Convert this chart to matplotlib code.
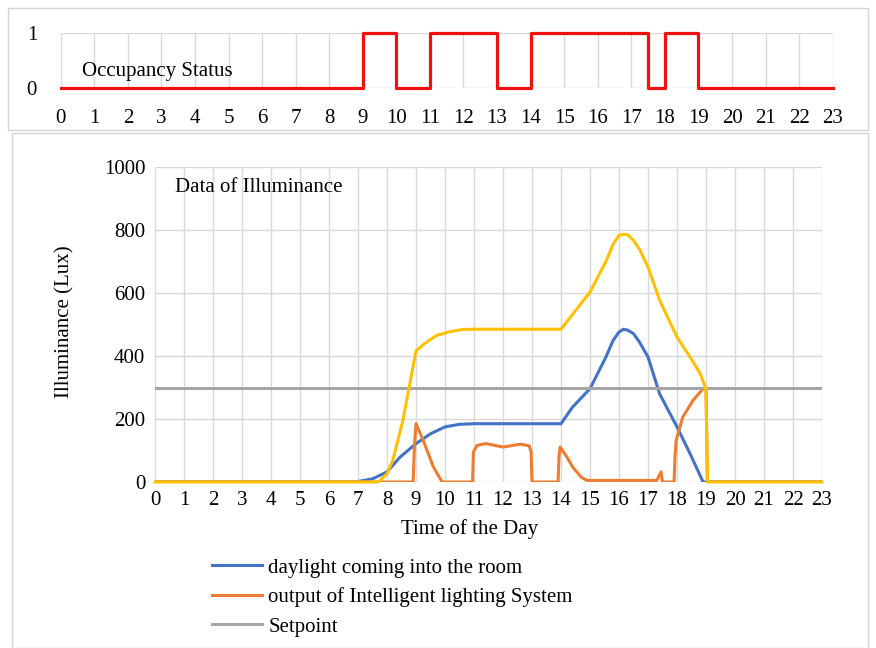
import matplotlib
matplotlib.use("Agg")
import matplotlib.pyplot as plt
from matplotlib.patches import Rectangle

plt.rcParams['font.family'] = ['Liberation Serif', 'DejaVu Serif']

## ocupacion (panel de arriba)
occ_hours = [0, 9, 10, 11, 13, 14, 17.5, 18, 19, 23]
occ_status = [0, 1, 0, 1, 0, 1, 0, 1, 0, 0]

## luz natural que entra en la sala
t_day = [0, 6.9, 7.5, 8, 8.45, 9, 9.5, 10, 10.5, 11, 14, 14.4, 15, 15.55, 15.8, 16,
         16.15, 16.3, 16.5, 16.7, 17, 17.4, 18, 18.45, 18.9, 23]
daylight = [0, 0, 10, 32, 79, 122, 153, 175, 183, 185, 185, 238, 296, 397, 450, 476,
            485, 482, 471, 445, 397, 280, 175, 90, 0, 0]

## salida del sistema inteligente
t_out = [0, 8.9, 8.95, 9, 9.25, 9.6, 9.9, 10.95, 10.98, 11.1, 11.4, 12, 12.6, 12.9,
         12.97, 13.0, 13.9, 13.93, 13.97, 14.2, 14.4, 14.7, 14.9, 17.3, 17.45, 17.5,
         17.9, 17.93, 17.97, 18.2, 18.55, 18.9, 19.0, 19.05, 23]
output = [0, 0, 120, 185, 132, 48, 0, 0, 95, 116, 122, 111, 120, 115,
          95, 0, 0, 80, 111, 80, 48, 15, 5, 5, 32, 0,
          0, 80, 132, 206, 259, 296, 296, 0, 0]

## total (amarillo)
t_total = [0, 7.7, 8, 8.2, 8.55, 9, 9.3, 9.7, 10.2, 10.6, 11, 14, 15, 15.57, 15.8, 16,
           16.15, 16.3, 16.5, 16.7, 17, 17.4, 18, 18.45, 18.8, 19, 19.05, 23]
total = [0, 0, 26, 69, 196, 416, 440, 465, 478, 484, 485, 485, 603, 704, 755, 783,
         786, 785, 767, 740, 683, 577, 460, 397, 344, 296, 0, 0]

setpoint_t = [0, 23]
setpoint = [300, 300]

hours = list(range(24))
lux_ticks = [0, 200, 400, 600, 800, 1000]

W, H = 876, 648
fig = plt.figure(figsize=(W / 100, H / 100), dpi=100)

def ejes(l, t, r, b):
    return fig.add_axes([l / W, 1 - b / H, (r - l) / W, (b - t) / H])

## marcos grises
fig.add_artist(Rectangle((8 / W, 1 - 130 / H), 860 / W, 122 / H, transform=fig.transFigure,
                         fill=False, edgecolor='#d4d4d4', lw=1))
fig.add_artist(Rectangle((12 / W, 0), 856 / W, 1 - 133 / H, transform=fig.transFigure,
                         fill=False, edgecolor='#d4d4d4', lw=1))

## panel de ocupacion
ax1 = ejes(60.7, 32.7, 832.7, 87.7)
ax1.step(occ_hours, occ_status, where='post', color='#f01010', lw=2.3, clip_on=False, zorder=3)
ax1.set_xlim(0, 23)
ax1.set_ylim(0, 1)
ax1.set_xticks(hours)
ax1.set_yticks([0, 1])
ax1.grid(True, color='#d9d9d9', lw=1)
for s in ax1.spines.values():
    s.set_visible(False)
ax1.tick_params(axis='x', length=0, pad=15, labelsize=15)
ax1.tick_params(axis='y', length=0, pad=17, labelsize=15)
ax1.text(0.63, 0.29, 'Occupancy Status', fontsize=15, va='center', ha='left')

## panel de iluminancia
ax2 = ejes(155, 167, 822, 482)
ax2.plot(t_day, daylight, color='#4472C4', lw=2.2, zorder=3, label='daylight coming into the room')
ax2.plot(t_out, output, color='#ED7D31', lw=2.2, zorder=4, label='output of Intelligent lighting System')
ax2.plot(setpoint_t, setpoint, color='#A5A5A5', lw=2.2, zorder=5, label='Setpoint')
ax2.plot(t_total, total, color='#FFC000', lw=2.2, zorder=6, clip_on=False)
ax2.set_xlim(0, 23)
ax2.set_ylim(0, 1000)
ax2.set_xticks(hours)
ax2.set_yticks(lux_ticks)
ax2.grid(True, color='#d9d9d9', lw=1)
for s in ax2.spines.values():
    s.set_visible(False)
ax2.tick_params(axis='x', length=0, pad=6.5, labelsize=15)
ax2.tick_params(axis='y', length=0, pad=7, labelsize=15)
ax2.set_ylabel('Illuminance (Lux)', fontsize=15)
ax2.yaxis.set_label_coords(-0.12, 0.51)
ax2.set_xlabel('Time of the Day', fontsize=15)
ax2.xaxis.set_label_coords(0.472, -0.117)
ax2.text(0.69, 935, 'Data of Illuminance', fontsize=15, va='center', ha='left')

h, l = ax2.get_legend_handles_labels()
fig.legend(h, l, loc='upper left', bbox_to_anchor=(212 / W, 1 - 558 / H), frameon=False,
           fontsize=15, borderpad=0, borderaxespad=0, handlelength=2.4, handletextpad=0.3,
           labelspacing=0.47)

fig.savefig('out.png', dpi=100)
